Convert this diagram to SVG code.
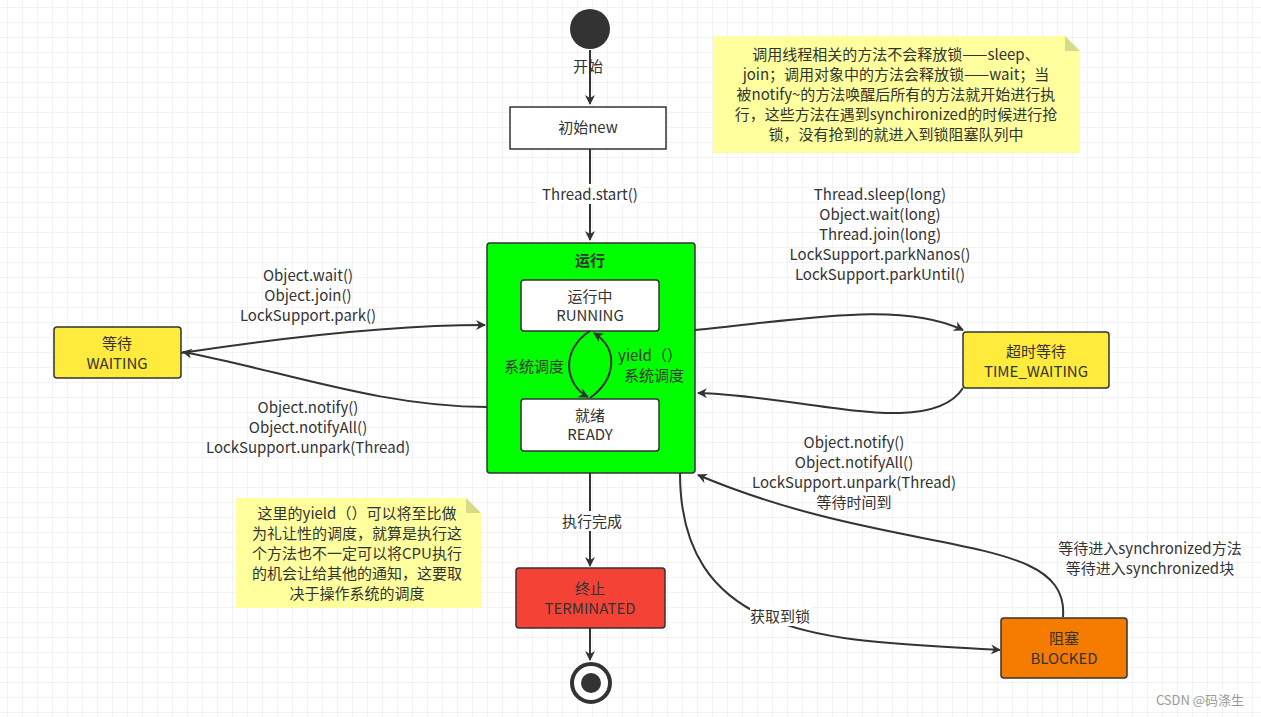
<svg xmlns="http://www.w3.org/2000/svg" width="1261" height="717" viewBox="0 0 1261 717">
<defs>
<pattern id="g" width="15" height="15" patternUnits="userSpaceOnUse" x="7" y="7"><path d="M0 0H15M0 0V15" fill="none" stroke="#e8e8e8" stroke-width="1"/></pattern>
<marker id="a" viewBox="0 0 10 10" refX="9" refY="5" markerWidth="10" markerHeight="10" markerUnits="userSpaceOnUse" orient="auto"><path d="M0 0L10 5L0 10L3 5Z" fill="#333"/></marker>
</defs>
<style>
text{font-family:"Noto Sans CJK SC","Liberation Sans",sans-serif;font-size:15px;fill:#333;text-anchor:middle}
.c{fill:none;stroke:#333;stroke-width:2;marker-end:url(#a)}
.b{stroke:#333;stroke-width:1.5}
</style>
<rect width="1261" height="717" fill="#fff"/>
<rect width="1261" height="717" fill="url(#g)"/>
<g id="connectors">
<path class="c" d="M590 50V104"/>
<path class="c" d="M590 149V240"/>
<path class="c" d="M181 353C300 335 400 325 485 325"/>
<path class="c" d="M487 407C380 407 280 370 183 352"/>
<path class="c" d="M695 330C800 320 900 300 963 330"/>
<path class="c" d="M963 388C930 440 800 395 698 393"/>
<path class="c" d="M1063 617C1070 530 900 560 698 475"/>
<path class="c" d="M680 473C680 650 850 640 1000 650"/>
<path class="c" d="M590 473V566"/>
<path class="c" d="M590 628V660"/>
</g>
<g id="start"><circle cx="590" cy="29" r="20" fill="#333"/><text x="588" y="72">开始</text></g>
<g id="new"><rect x="510" y="107" width="156" height="42" fill="#fff" class="b"/><text x="588" y="133">初始new</text></g>
<rect x="538" y="184" width="104" height="20" fill="#fff"/>
<text x="590" y="200">Thread.start()</text>
<g id="run"><rect x="487" y="243" width="208" height="230" rx="3" fill="#00ff00" class="b"/><text x="590" y="266" font-weight="bold">运行</text></g>
<g id="running"><rect x="521" y="280" width="138" height="51" rx="3" fill="#fff" class="b"/><text x="590" y="302">运行中</text><text x="590" y="321">RUNNING</text></g>
<g id="ready"><rect x="521" y="399" width="138" height="52" rx="3" fill="#fff" class="b"/><text x="590" y="421">就绪</text><text x="590" y="440">READY</text></g>
<g id="inner-connectors">
<path class="c" d="M590 331C560 350 565 385 588 397"/>
<path class="c" d="M590 398C615 380 620 350 594 333"/>
</g>
<text x="534" y="372">系统调度</text><text x="650" y="361">yield（）</text><text x="654" y="381">系统调度</text>
<g id="waiting"><rect x="54" y="327" width="127" height="51" rx="3" fill="#ffeb3b" class="b"/><text x="117" y="349">等待</text><text x="117" y="369">WAITING</text></g>
<text x="308" y="281">Object.wait()</text><text x="308" y="301">Object.join()</text><text x="308" y="321">LockSupport.park()</text>
<text x="308" y="413">Object.notify()</text><text x="308" y="433">Object.notifyAll()</text><text x="308" y="453">LockSupport.unpark(Thread)</text>
<g id="timewait"><rect x="963" y="332" width="146" height="56" rx="3" fill="#ffeb3b" class="b"/><text x="1036" y="357">超时等待</text><text x="1036" y="377">TIME_WAITING</text></g>
<text x="880" y="200">Thread.sleep(long)</text><text x="880" y="220">Object.wait(long)</text><text x="880" y="240">Thread.join(long)</text><text x="880" y="260">LockSupport.parkNanos()</text><text x="880" y="280">LockSupport.parkUntil()</text>
<text x="854" y="448">Object.notify()</text><text x="854" y="468">Object.notifyAll()</text><text x="854" y="488">LockSupport.unpark(Thread)</text><text x="854" y="508">等待时间到</text>
<text x="1150" y="554">等待进入synchronized方法</text><text x="1150" y="574">等待进入synchronized块</text>
<g id="blocked"><rect x="1001" y="618" width="126" height="60" rx="3" fill="#f57c00" class="b"/><text x="1064" y="644">阻塞</text><text x="1064" y="664">BLOCKED</text></g>
<rect x="750" y="606" width="60" height="20" fill="#fff"/>
<text x="780" y="622">获取到锁</text>
<rect x="560" y="511" width="64" height="20" fill="#fff"/>
<text x="592" y="527">执行完成</text>
<g id="term"><rect x="516" y="568" width="149" height="60" rx="3" fill="#f44336" class="b"/><text x="590" y="594">终止</text><text x="590" y="614">TERMINATED</text></g>
<g id="end"><circle cx="591" cy="683" r="19" fill="#fff" stroke="#333" stroke-width="4"/><circle cx="591" cy="683" r="10" fill="#333"/></g>
<g id="note2"><path d="M236 498H466L481 513V608H236Z" fill="#ffff9e"/><path d="M466 498V513H481Z" fill="#d9d98a"/>
<text x="357" y="519">这里的yield（）可以将至比做</text><text x="357" y="539">为礼让性的调度，就算是执行这</text><text x="357" y="559">个方法也不一定可以将CPU执行</text><text x="357" y="579">的机会让给其他的通知，这要取</text><text x="357" y="599">决于操作系统的调度</text></g>
<g id="note1"><path d="M713 36H1065L1080 51V153H713Z" fill="#ffff9e"/><path d="M1065 36V51H1080Z" fill="#d9d98a"/>
<text x="896" y="60">调用线程相关的方法不会释放锁——sleep、</text><text x="896" y="80">join；调用对象中的方法会释放锁——wait；当</text><text x="896" y="100">被notify~的方法唤醒后所有的方法就开始进行执</text><text x="896" y="120">行，这些方法在遇到synchironized的时候进行抢</text><text x="896" y="140">锁，没有抢到的就进入到锁阻塞队列中</text></g>
<text x="1200" y="705" style="font-size:13px;fill:#999">CSDN @码涤生</text>
</svg>
